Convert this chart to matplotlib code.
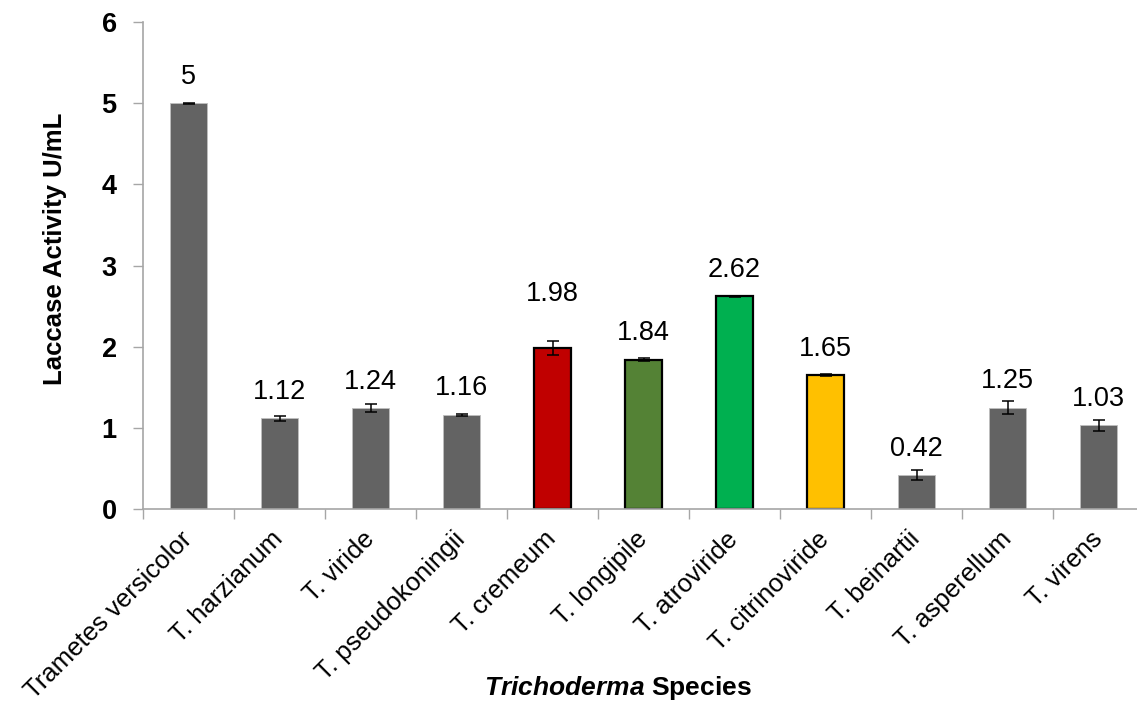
import numpy as np
import matplotlib.pyplot as plt

plt.rcParams['font.family'] = ['Liberation Sans', 'DejaVu Sans']
plt.rcParams['mathtext.fontset'] = 'custom'
plt.rcParams['mathtext.bfit'] = 'Liberation Sans:italic:bold'

# data
species = ['Trametes versicolor', 'T. harzianum', 'T. viride', 'T. pseudokoningii',
           'T. cremeum', 'T. longipile', 'T. atroviride', 'T. citrinoviride',
           'T. beinartii', 'T. asperellum', 'T. virens']
activity = [5.00, 1.12, 1.24, 1.16, 1.98, 1.84, 2.62, 1.65, 0.42, 1.25, 1.03]
err = [0.005, 0.03, 0.05, 0.01, 0.085, 0.015, 0.01, 0.01, 0.06, 0.075, 0.07]
value_labels = ['5', '1.12', '1.24', '1.16', '1.98', '1.84', '2.62', '1.65', '0.42', '1.25', '1.03']

grey = '#636363'
colors = [grey, grey, grey, grey, '#C00000', '#548235', '#00B050', '#FFC000', grey, grey, grey]
edges = ['#BFBFBF'] * 4 + ['black'] * 4 + ['#BFBFBF'] * 3
edge_w = [0.6] * 4 + [1.6] * 4 + [0.6] * 3
label_off = [19, 19, 19, 19, 39, 19, 19, 19, 19, 19, 19]   # points above bar top

fig = plt.figure(figsize=(11.37, 7.08), dpi=100)
ax = fig.add_axes([0.1258, 0.281, 0.8804, 0.688])

x = np.arange(len(species))
ax.bar(x, activity, width=0.4, color=colors, edgecolor=edges, linewidth=edge_w, zorder=2)
ax.errorbar(x, activity, yerr=err, fmt='none', ecolor='black', elinewidth=1.1,
            capsize=4.5, capthick=1.1, zorder=3)

for xi, v, lab, off in zip(x, activity, value_labels, label_off):
    ax.annotate(lab, (xi, v), xytext=(0, off), textcoords='offset points',
                ha='center', va='center', fontsize=19.5)

ax.set_xlim(-0.5, len(species) - 0.5)
ax.set_ylim(0, 6)
ax.set_yticks(range(0, 7))
ax.set_yticklabels([str(i) for i in range(0, 7)], fontsize=19.5, fontweight='bold')

ax.set_xticks(x)
ax.set_xticklabels(species, rotation=45, ha='right', va='center',
                   rotation_mode='anchor', fontsize=18.5)
ax.tick_params(axis='x', length=0, pad=19)
ax.set_xticks(np.arange(-0.5, len(species), 1.0), minor=True)
ax.tick_params(axis='x', which='minor', length=7, color='#A6A6A6', width=1)
ax.tick_params(axis='y', length=7, color='#A6A6A6', width=1, pad=12)

for s in ['top', 'right']:
    ax.spines[s].set_visible(False)
for s in ['left', 'bottom']:
    ax.spines[s].set_color('#A6A6A6')
    ax.spines[s].set_linewidth(1.2)

ax.set_ylabel('Laccase Activity U/mL', fontsize=18.5, fontweight='bold')
ax.yaxis.set_label_coords(-0.076, 0.534)
fig.text(0.5435, 0.028, r'$\mathbfit{Trichoderma}$ Species', ha='center', va='center',
         fontsize=19, fontweight='bold')

fig.savefig('out.png', dpi=100)
